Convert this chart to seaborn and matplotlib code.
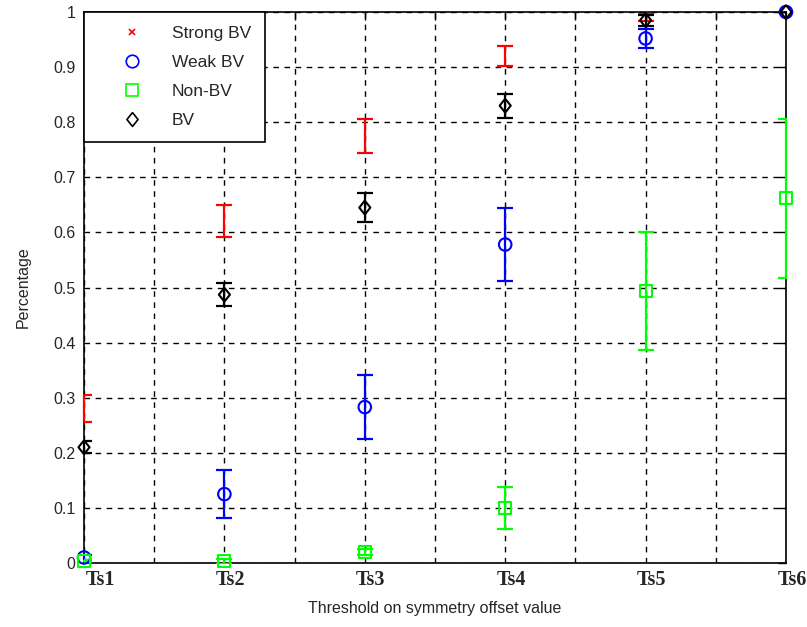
import matplotlib
matplotlib.use("Agg")
import matplotlib.pyplot as plt
import matplotlib.transforms as mtransforms
from matplotlib.lines import Line2D
import numpy as np
import pandas as pd
import seaborn as sns

# Thresholds and class proportions (mean with error half-widths)
thresholds = ["Ts1", "Ts2", "Ts3", "Ts4", "Ts5", "Ts6"]
strong_bv = [0.28, 0.62, 0.775, 0.92, 0.99, 1.0]
strong_bv_err = [0.024, 0.029, 0.030, 0.018, 0.007, 0.0]
weak_bv = [0.01, 0.125, 0.283, 0.578, 0.952, 1.0]
weak_bv_err = [0.005, 0.043, 0.058, 0.066, 0.017, 0.0]
non_bv = [0.003, 0.003, 0.02, 0.10, 0.493, 0.662]
non_bv_err = [0.002, 0.004, 0.005, 0.038, 0.107, 0.144]
bv = [0.21, 0.487, 0.645, 0.83, 0.985, 1.0]
bv_err = [0.011, 0.021, 0.027, 0.022, 0.010, 0.0]

# MATLAB-style diamond: a little taller than wide
diamond = [(0, 1), (0.8, 0), (0, -1), (-0.8, 0), (0, 1)]

series = [
    ("Strong BV", strong_bv, strong_bv_err, "#ff0000", "x", 5),
    ("Weak BV", weak_bv, weak_bv_err, "#0000ff", "o", 9),
    ("Non-BV", non_bv, non_bv_err, "#00ff00", "s", 8.5),
    ("BV", bv, bv_err, "#000000", diamond, 10),
]

x = np.arange(1, len(thresholds) + 1)
rows = []
for name, vals, errs, *_ in series:
    for xi, v, e in zip(x, vals, errs):
        rows.append({"x": xi, "value": v, "err": e, "group": name})
df = pd.DataFrame(rows)

sns.set_style("white")
plt.rcParams["font.family"] = ["Liberation Sans", "DejaVu Sans"]

fig = plt.figure(figsize=(8.07, 6.27), dpi=100)
ax = fig.add_axes([84 / 807, 64 / 627, 702 / 807, 551 / 627])

for name, vals, errs, color, marker, ms in series:
    sub = df[df["group"] == name]
    eb = ax.errorbar(sub["x"], sub["value"], yerr=sub["err"], fmt="none",
                     ecolor=color, elinewidth=1.6, capsize=5.5,
                     capthick=1.6, zorder=3)
    for coll in eb[2]:
        coll.set_clip_on(False)
    sns.scatterplot(data=sub, x="x", y="value", ax=ax, marker=marker,
                    s=ms ** 2, facecolor="none", edgecolor=color,
                    color=color, linewidth=1.5, legend=False, zorder=4,
                    clip_on=False)

ax.set_xlim(1, 6)
ax.set_ylim(0, 1)
ax.set_xticks(x)
ax.set_xticks(np.arange(1.5, 6, 1.0), minor=True)
ax.set_xticklabels(thresholds, fontfamily="Liberation Serif",
                   fontweight="bold", fontsize=14.5)
ax.set_yticks(np.arange(0, 1.01, 0.1))
ax.set_yticklabels(["0"] + [f"{v:.1f}" for v in np.arange(0.1, 1.0, 0.1)] + ["1"],
                   fontsize=11.5)
ax.tick_params(which="both", direction="in", top=True, right=True,
               length=6, width=1, color="black")
ax.tick_params(axis="x", pad=5)
ax.tick_params(axis="y", pad=6)

# nudge the threshold labels to the right, the first one clear of the "0"
for i, lab in enumerate(ax.get_xticklabels()):
    dx = 16 if i == 0 else 6
    lab.set_transform(lab.get_transform() +
                      mtransforms.ScaledTranslation(dx / 100, 0,
                                                    fig.dpi_scale_trans))

ax.grid(True, which="both", linestyle=(0, (4, 4)), color="black",
        linewidth=1)
ax.set_axisbelow(True)
for sp in ax.spines.values():
    sp.set_color("black")
    sp.set_linewidth(1.2)

ax.set_xlabel("Threshold on symmetry offset value", fontsize=11.5,
              labelpad=8)
ax.set_ylabel("Percentage", fontsize=11.5, labelpad=16)

handles = [Line2D([], [], linestyle="none", marker=m, markersize=ms,
                  markerfacecolor="none", markeredgecolor=c,
                  markeredgewidth=1.2)
           for _, _, _, c, m, ms in series]
leg = ax.legend(handles, [s[0] for s in series], loc="upper left",
                fontsize=12.5, frameon=True, fancybox=False,
                borderaxespad=0, handletextpad=0.35, labelspacing=0.8,
                borderpad=0.8, handlelength=3.9)
leg.get_frame().set_edgecolor("black")
leg.get_frame().set_linewidth(1.2)
leg.get_frame().set_alpha(1)
fig.canvas.draw()
# widen the legend box to leave room right of the labels
frame = leg.get_frame()
frame.set_width(frame.get_width() + 7)

fig.savefig("out.png", dpi=100)
